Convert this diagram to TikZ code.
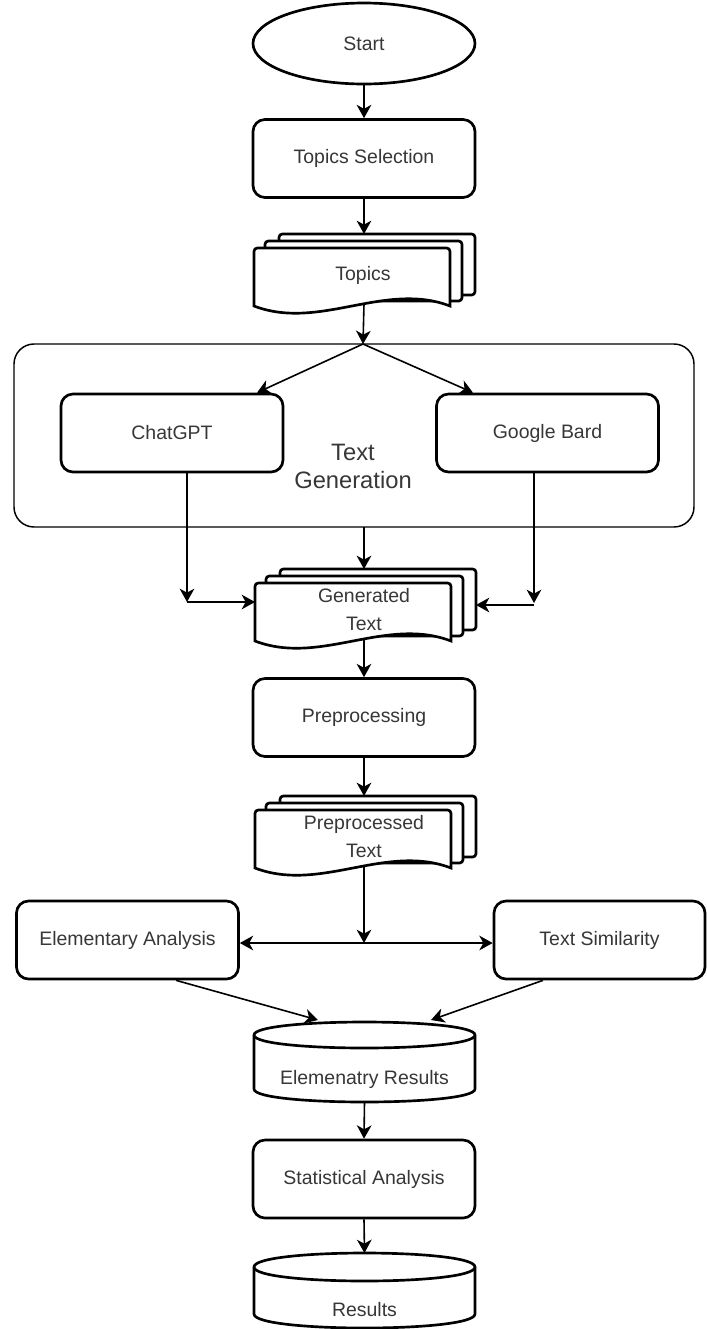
\documentclass[tikz,border=0pt]{standalone}
\usepackage{fontspec}
\setmainfont{Liberation Sans}
\usetikzlibrary{arrows.meta,calc,shapes.geometric}
\definecolor{txt}{RGB}{55,55,55}
\tikzset{
  shapeline/.style={draw=black, line width=2pt, fill=white},
  conn/.style={draw=black, line width=1.2pt, -{Stealth[length=10pt,width=11pt,inset=3pt]}},
  lbl/.style={text=txt, font=\fontsize{14.6pt}{21pt}\selectfont, align=center, inner sep=0pt},
  procbox/.style={shapeline, rounded corners=9pt, minimum width=166.5pt, minimum height=58.5pt,
    inner sep=0pt, text=txt, font=\fontsize{14.6pt}{21pt}\selectfont, align=center},
  startshape/.style={shapeline, ellipse, minimum width=166.5pt, minimum height=60.75pt,
    inner sep=0pt, text=txt, font=\fontsize{14.6pt}{21pt}\selectfont},
  groupbox/.style={draw=black, line width=1.1pt, rounded corners=15pt, minimum width=510pt,
    minimum height=137.25pt, inner sep=0pt},
  biglbl/.style={text=txt, font=\fontsize{17.8pt}{21pt}\selectfont, align=center, inner sep=0pt}
}
% multi-document: #1 name, #2 left x, #3 top y of front page, #4 text
\newcommand{\mdoc}[4]{%
  \pgfmathsetmacro{\mdA}{#2+25}\pgfmathsetmacro{\mdB}{#2+221}%
  \pgfmathsetmacro{\mdC}{#3-14}\pgfmathsetmacro{\mdD}{#3+47}%
  \draw[shapeline, rounded corners=2.5pt] (\mdA,\mdD) -- (\mdA,\mdC) -- (\mdB,\mdC) -- (\mdB,\mdD) -- cycle;
  \pgfmathsetmacro{\mdA}{#2+11}\pgfmathsetmacro{\mdB}{#2+208}%
  \pgfmathsetmacro{\mdC}{#3-7}\pgfmathsetmacro{\mdD}{#3+53}%
  \draw[shapeline, rounded corners=2.5pt] (\mdA,\mdD) -- (\mdA,\mdC) -- (\mdB,\mdC) -- (\mdB,\mdD) -- cycle;
  \pgfmathsetmacro{\mdB}{#2+196}\pgfmathsetmacro{\mdD}{#3+58}%
  \pgfmathsetmacro{\mdE}{#2+130.67}\pgfmathsetmacro{\mdF}{#2+65.33}%
  \pgfmathsetmacro{\mdG}{#3+33}\pgfmathsetmacro{\mdH}{#3+83}%
  \draw[shapeline] (#2,\mdD) [rounded corners=2.5pt] -- (#2,#3) -- (\mdB,#3) [sharp corners] -- (\mdB,\mdD)
     .. controls (\mdE,\mdG) and (\mdF,\mdH) .. cycle;
  \pgfmathsetmacro{\mdA}{#2+109}\pgfmathsetmacro{\mdC}{#3+27}%
  \node[lbl] (#1) at (\mdA,\mdC) {#4};
  \pgfmathsetmacro{\mdC}{#3-14}\pgfmathsetmacro{\mdD}{#3+56}%
  \coordinate (#1-in) at (364,\mdC);
  \coordinate (#1-out) at (364,\mdD);
}
% cylinder: #1 name, #2 x0, #3 x1, #4 top y, #5 bottom y, #6 ry, #7 text, #8 text y
\newcommand{\mcyl}[8]{%
  \pgfmathsetmacro{\cyA}{#4+#6}\pgfmathsetmacro{\cyB}{#5-#6}%
  \pgfmathsetmacro{\cyU}{#4+#6-4/3*#6}\pgfmathsetmacro{\cyD}{#4+#6+4/3*#6}%
  \pgfmathsetmacro{\cyE}{#5-#6+4/3*#6}%
  \draw[shapeline] (#2,\cyA) -- (#2,\cyB) .. controls (#2,\cyE) and (#3,\cyE) .. (#3,\cyB)
     -- (#3,\cyA) .. controls (#3,\cyU) and (#2,\cyU) .. cycle;
  \draw[shapeline] (#2,\cyA) .. controls (#2,\cyD) and (#3,\cyD) .. (#3,\cyA);
  \pgfmathsetmacro{\cyM}{(#2+#3)/2}%
  \node[lbl] (#1) at (\cyM,#8) {#7};
  \coordinate (#1-top) at (\cyM,#4);
  \coordinate (#1-bot) at (\cyM,#5);
}
\begin{document}
\begin{tikzpicture}[x=0.75pt,y=-0.75pt]
\useasboundingbox (0,0) rectangle (707,1329);

\node[startshape] (start) at (364,43.5) {Start};
\node[procbox] (sel) at (364,158.5) {Topics Selection};
\mdoc{topics}{254}{248}{Topics}

\node[groupbox] (tg) at (354,435.5) {};
\coordinate (tgtop) at (363,344);
\coordinate (tgbot) at (364,527);
\node[biglbl] (tglbl) at (353,466) {Text\\Generation};
\node[procbox] (chat) at (172,433) {ChatGPT};
\node[procbox] (bard) at (547.5,433) {Google Bard};

\mdoc{gen}{255}{583}{Generated\\Text}
\coordinate (cj) at (187,602);
\coordinate (genl) at (255,602);
\coordinate (bj) at (534,603);
\coordinate (bj2) at (534,605);
\coordinate (genr) at (476,605);

\node[procbox] (prep) at (364,717.5) {Preprocessing};
\mdoc{pp}{255}{810}{Preprocessed\\Text}

\coordinate (split) at (364,943);
\node[procbox] (ea) at (127.5,940) {Elementary Analysis};
\node[procbox, minimum width=158.25pt] (ts) at (599.5,940) {Text Similarity};

\mcyl{er}{254}{475}{1022}{1102}{13}{Elemenatry Results}{1079}
\coordinate (erl) at (318,1020);
\coordinate (err) at (431,1020);

\node[procbox] (stat) at (364,1179) {Statistical Analysis};
\mcyl{res}{254}{475}{1253}{1328}{14}{Results}{1310}

% connectors
\draw[conn] (start.south) -- (sel.north);
\draw[conn] (sel.south) -- (topics-in);
\draw[conn] (topics-out) -- (tgtop);
\draw[conn] (tgtop) -- ($(chat.north)+(85,0)$);
\draw[conn] (tgtop) -- ($(bard.north)+(-74.5,0)$);
\draw[conn] (tgbot) -- (gen-in);
\draw[conn] ($(chat.south)+(15,0)$) -- (cj);
\draw[conn] (cj) -- (genl);
\draw[conn] ($(bard.south)+(-13.5,0)$) -- (bj);
\draw[conn] (bj2) -- (genr);
\draw[conn] (gen-out) -- (prep.north);
\draw[conn] (prep.south) -- (pp-in);
\draw[conn] (pp-out) -- (split);
\draw[conn] (split) -- (split -| ea.east);
\draw[conn] (split) -- (split -| ts.west);
\draw[conn] ($(ea.south)+(48.5,0)$) -- (erl);
\draw[conn] ($(ts.south)+(-56.5,0)$) -- (err);
\draw[conn] (er-bot) -- (stat.north);
\draw[conn] (stat.south) -- (res-top);
\end{tikzpicture}
\end{document}
